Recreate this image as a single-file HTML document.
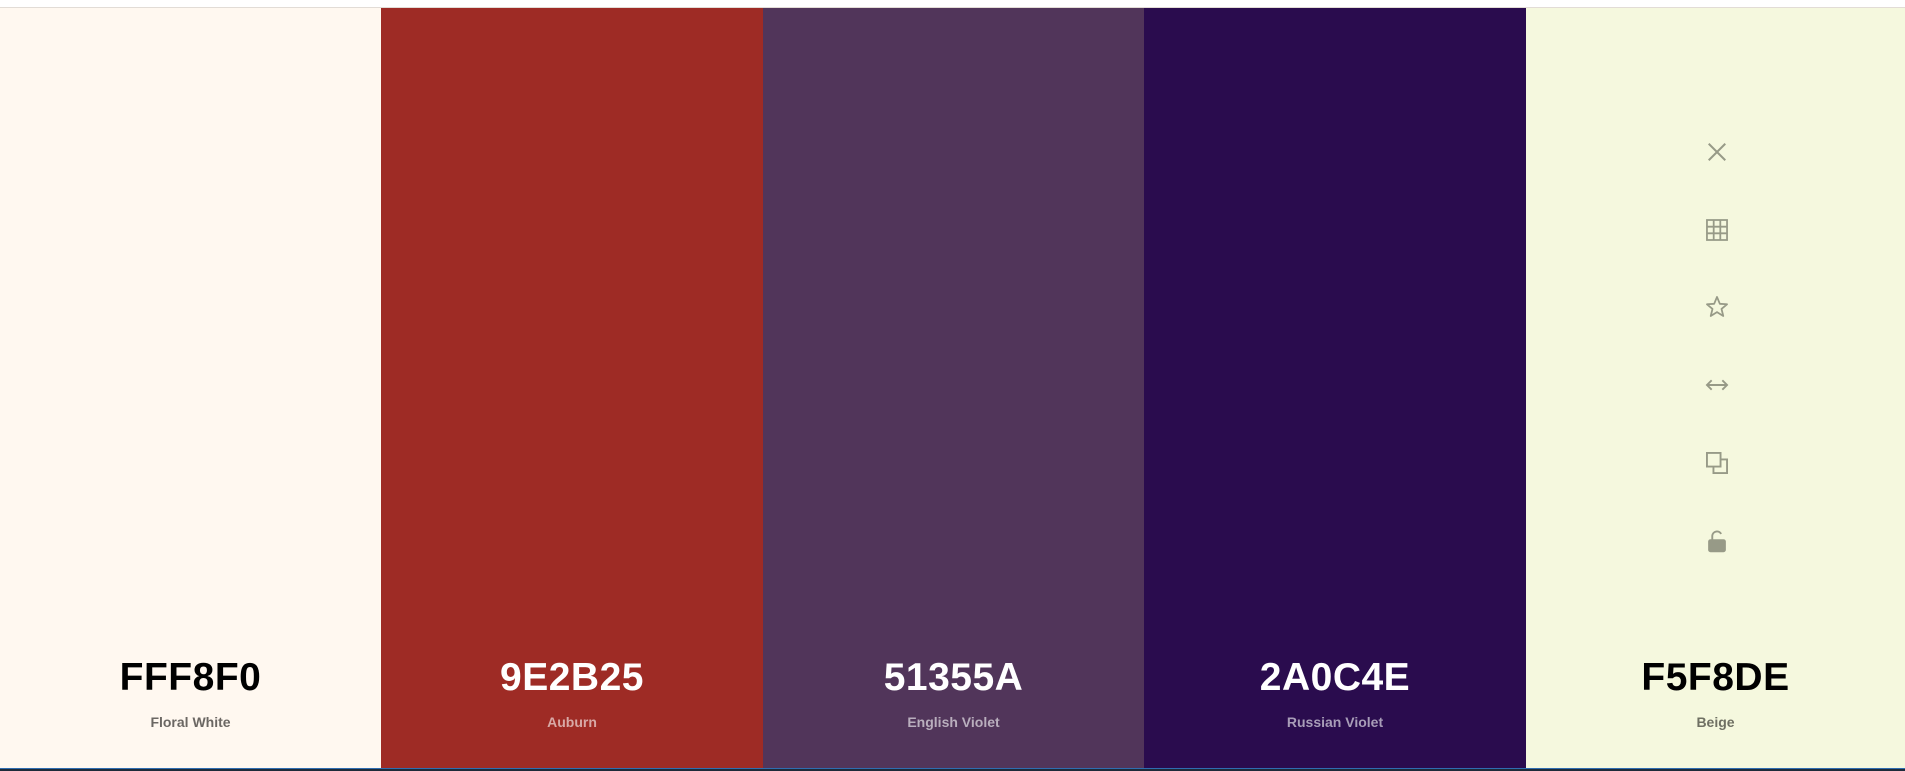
<!DOCTYPE html>
<html><head><meta charset="utf-8">
<style>
html,body{margin:0;padding:0;width:1905px;height:771px;overflow:hidden;background:#fff;font-family:"Liberation Sans",sans-serif;}
.top{position:absolute;left:0;top:0;width:1905px;height:8px;background:#fff;border-bottom:1px solid #e2dcd6;box-sizing:border-box;}
.cols{position:absolute;left:0;top:8px;width:1905px;height:761px;display:flex;}
.col{position:relative;height:100%;}
.hex{position:absolute;left:0;right:0;top:648px;text-align:center;font-size:39px;font-weight:700;letter-spacing:0.5px;}
.nm{position:absolute;left:0;right:0;top:706px;text-align:center;font-size:14px;font-weight:700;}
.bot{position:absolute;left:0;top:768px;width:1905px;height:1px;background:#2f6db0;}
.bot2{position:absolute;left:0;top:769px;width:1905px;height:2px;background:#1d2b3a;}
.icons{position:absolute;left:1704px;top:0;width:26px;}
.ic{position:absolute;left:0;width:26px;height:26px;}
</style></head><body>
<div class="top"></div>
<div class="cols">
  <div class="col" style="width:381px;background:#FFF8F0">
    <div class="hex" style="color:#000">FFF8F0</div>
    <div class="nm" style="color:#6b6763">Floral White</div>
  </div>
  <div class="col" style="width:382px;background:#9E2B25">
    <div class="hex" style="color:#fff">9E2B25</div>
    <div class="nm" style="color:#d8a9a6">Auburn</div>
  </div>
  <div class="col" style="width:381px;background:#51355A">
    <div class="hex" style="color:#fff">51355A</div>
    <div class="nm" style="color:#b9aebd">English Violet</div>
  </div>
  <div class="col" style="width:382px;background:#2A0C4E">
    <div class="hex" style="color:#fff">2A0C4E</div>
    <div class="nm" style="color:#a89db8">Russian Violet</div>
  </div>
  <div class="col" style="width:379px;background:#F5F8DE">
    <div class="hex" style="color:#000">F5F8DE</div>
    <div class="nm" style="color:#6f7063">Beige</div>
  </div>
</div>
<div class="icons">
  <svg class="ic" style="top:139px" viewBox="0 0 22 22"><path d="M4 4L18 18M18 4L4 18" stroke="#979a87" stroke-width="1.7" fill="none"/></svg>
  <svg class="ic" style="top:217px" viewBox="0 0 22 22"><path d="M2.5 2.5H19.5V19.5H2.5ZM8.2 2.5V19.5M13.8 2.5V19.5M2.5 8.2H19.5M2.5 13.8H19.5" stroke="#979a87" stroke-width="1.5" fill="none"/></svg>
  <svg class="ic" style="top:294px" viewBox="0 0 22 22"><path d="M11 2.5L13.4 8.3L19.5 8.7L14.8 12.6L16.3 18.6L11 15.3L5.7 18.6L7.2 12.6L2.5 8.7L8.6 8.3Z" stroke="#979a87" stroke-width="1.5" fill="none" stroke-linejoin="round"/></svg>
  <svg class="ic" style="top:372px" viewBox="0 0 22 22"><path d="M2.5 11H19.5M6.5 7L2.5 11L6.5 15M15.5 7L19.5 11L15.5 15" stroke="#979a87" stroke-width="1.6" fill="none"/></svg>
  <svg class="ic" style="top:450px" viewBox="0 0 22 22"><path d="M2.5 2.5H14V14H2.5ZM8 14V19.5H19.5V8H14" stroke="#979a87" stroke-width="1.6" fill="none"/></svg>
  <svg class="ic" style="top:528px" viewBox="0 0 22 22"><path d="M7 10V6.5A4 4 0 0 1 14.5 5" stroke="#979a87" stroke-width="1.6" fill="none"/><rect x="3.5" y="9.5" width="15" height="11" rx="2" fill="#979a87"/></svg>
</div>
<div class="bot"></div>
<div class="bot2"></div>
</body></html>
